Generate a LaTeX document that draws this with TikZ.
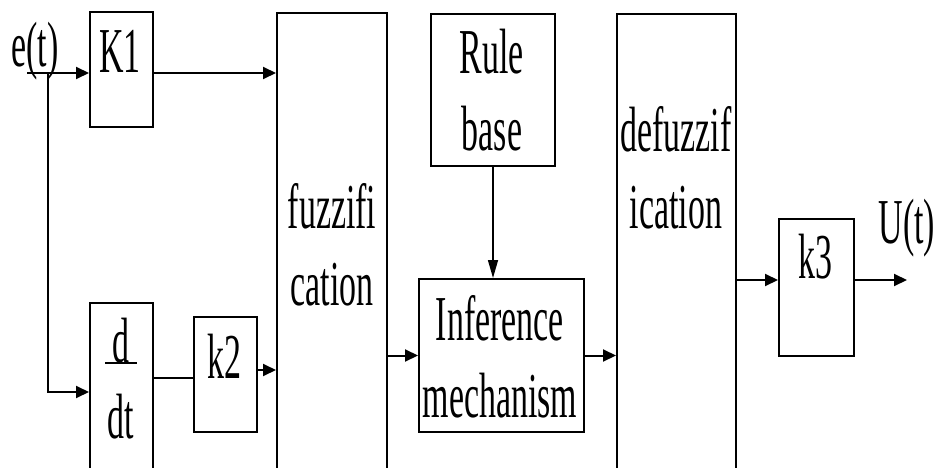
\documentclass[tikz,border=0pt]{standalone}
\usepackage{fontspec}
\setmainfont{Liberation Serif}
\usetikzlibrary{arrows.meta,calc}
\newcommand\sqz[1]{\scalebox{0.53}[1]{#1}}
\begin{document}
\begin{tikzpicture}[x=1pt,y=-1pt,
 box/.style={draw,line width=2pt,inner sep=0pt,anchor=north west},
 lbl/.style={inner sep=0pt,anchor=base,font=\fontsize{64}{70}\selectfont},
 arr/.style={line width=2pt,-{Triangle[length=13pt,width=12pt]}},
 rarr/.style={line width=1.5pt,-{Triangle[length=18pt,width=10pt]}},
 conn/.style={line width=2pt}]
\clip (0,0) rectangle (934,468);
% boxes
\node[box,minimum width=63pt,minimum height=115pt] (k1) at (89,11) {};
\node[box,minimum width=63pt,minimum height=200pt] (ddt) at (89,302) {};
\node[box,minimum width=63pt,minimum height=115pt] (k2) at (193,316) {};
\node[box,minimum width=110pt,minimum height=500pt] (fuzz) at (276,12) {};
\node[box,minimum width=124pt,minimum height=152pt] (rb) at (430,13) {};
\node[box,minimum width=165pt,minimum height=153pt] (inf) at (418,278) {};
\node[box,minimum width=119pt,minimum height=500pt] (defz) at (616,13) {};
\node[box,minimum width=75pt,minimum height=137pt] (k3) at (778,218) {};
% texts
\node[lbl] (tet) at (35,67) {\sqz{e(t)}};
\node[lbl] (tk1) at (120,73) {\sqz{K1}};
\node[lbl] (trule) at (492,74) {\sqz{Rule}};
\node[lbl] (tbase) at (492,150) {\sqz{base}};
\node[lbl] (tfz1) at (332,228) {\sqz{fuzzifi}};
\node[lbl] (tfz2) at (332,305) {\sqz{cation}};
\node[lbl] (tinf1) at (500,340) {\sqz{Inference}};
\node[lbl] (tinf2) at (500,417) {\sqz{mechanism}};
\node[lbl] (tdf1) at (676,152) {\sqz{defuzzif}};
\node[lbl] (tdf2) at (676,228) {\sqz{ication}};
\node[lbl] (tk3) at (815,278) {\sqz{k3}};
\node[lbl] (tut) at (907,243) {\sqz{U(t)}};
\node[lbl] (tk2) at (224,378) {\sqz{k2}};
\node[lbl] (td) at (121,362) {\sqz{d}};
\node[lbl] (tdt) at (121,438) {\sqz{dt}};
\draw[line width=1.5pt] (105,363) -- (137,363);
% connectors
\coordinate (ein) at (27,73);
\coordinate (br) at (48,73);
\coordinate (dy) at (48,392);
\draw[arr] (ein) -- (ein -| k1.west);
\draw[arr] (br) -- (dy) -- (dy -| ddt.west);
\draw[arr] (ein -| k1.east) -- (ein -| fuzz.west);
\coordinate (d2) at (152,378);
\draw[conn] (d2 -| ddt.east) -- (d2 -| k2.west);
\coordinate (k2y) at (0,370);
\draw[arr] (k2y -| k2.east) -- (k2y -| fuzz.west);
\draw[arr] (fuzz.east |- inf.west) -- (inf.west);
\draw[arr] (inf.east) -- (inf.east -| defz.west);
\coordinate (oy) at (907,280);
\draw[arr] (oy -| defz.east) -- (oy -| k3.west);
\draw[arr] (oy -| k3.east) -- (oy);
\draw[rarr] (rb.south) -- (rb.south |- inf.north);
\end{tikzpicture}
\end{document}
